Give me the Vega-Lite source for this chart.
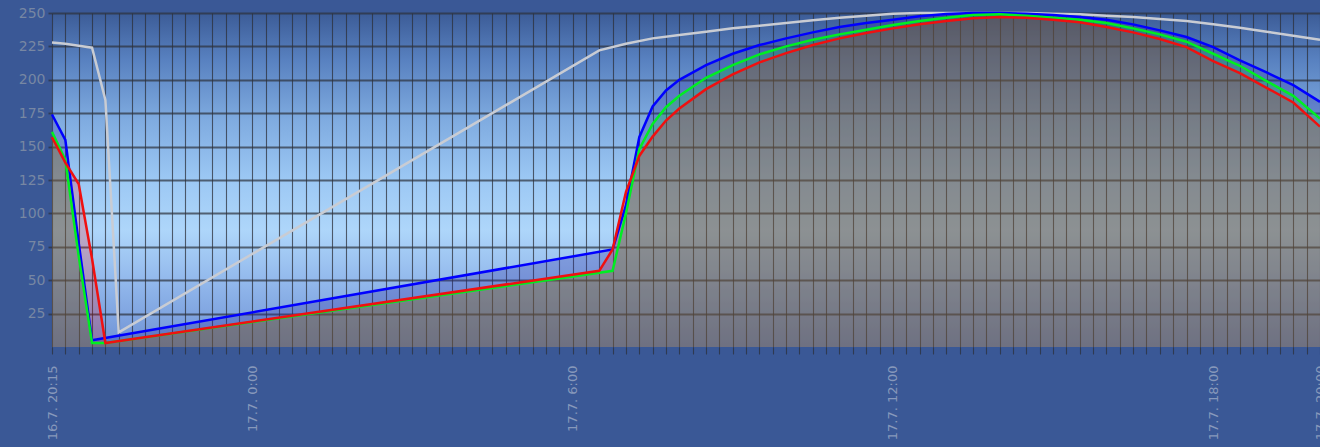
{
  "$schema": "https://vega.github.io/schema/vega-lite/v6.json",
  "width": 1268,
  "height": 334,
  "autosize": {"type": "none"},
  "padding": {"left": 52, "top": 13, "right": 0, "bottom": 100},
  "background": "#3a5896",
  "config": {
    "view": {
      "stroke": null,
      "fill": {
        "gradient": "linear", "x1": 0, "y1": 0, "x2": 0, "y2": 1,
        "stops": [
          {"offset": 0, "color": "#3c5c97"},
          {"offset": 0.14, "color": "#5881c0"},
          {"offset": 0.32, "color": "#7fabe0"},
          {"offset": 0.5, "color": "#9cc8f4"},
          {"offset": 0.65, "color": "#aed6fa"},
          {"offset": 0.82, "color": "#8fb5ea"},
          {"offset": 1, "color": "#6f92d5"}
        ]
      }
    }
  },
  "data": {
    "values": [
      {"s": "b", "t": "2015-07-16T20:15", "v": 174},
      {"s": "b", "t": "2015-07-16T20:30", "v": 155},
      {"s": "b", "t": "2015-07-16T20:45", "v": 78},
      {"s": "b", "t": "2015-07-16T21:00", "v": 5},
      {"s": "b", "t": "2015-07-17T06:45", "v": 73},
      {"s": "b", "t": "2015-07-17T07:00", "v": 106},
      {"s": "b", "t": "2015-07-17T07:15", "v": 157},
      {"s": "b", "t": "2015-07-17T07:30", "v": 180},
      {"s": "b", "t": "2015-07-17T07:45", "v": 192},
      {"s": "b", "t": "2015-07-17T08:00", "v": 200},
      {"s": "b", "t": "2015-07-17T08:30", "v": 211},
      {"s": "b", "t": "2015-07-17T09:00", "v": 219.5},
      {"s": "b", "t": "2015-07-17T09:30", "v": 226},
      {"s": "b", "t": "2015-07-17T10:00", "v": 231},
      {"s": "b", "t": "2015-07-17T10:30", "v": 235.5},
      {"s": "b", "t": "2015-07-17T11:00", "v": 239.5},
      {"s": "b", "t": "2015-07-17T11:30", "v": 242.5},
      {"s": "b", "t": "2015-07-17T12:00", "v": 245},
      {"s": "b", "t": "2015-07-17T12:30", "v": 247.5},
      {"s": "b", "t": "2015-07-17T13:00", "v": 249.2},
      {"s": "b", "t": "2015-07-17T13:30", "v": 250},
      {"s": "b", "t": "2015-07-17T14:00", "v": 250},
      {"s": "b", "t": "2015-07-17T14:30", "v": 249.5},
      {"s": "b", "t": "2015-07-17T15:00", "v": 248.5},
      {"s": "b", "t": "2015-07-17T15:30", "v": 247},
      {"s": "b", "t": "2015-07-17T16:00", "v": 245},
      {"s": "b", "t": "2015-07-17T16:30", "v": 241.5},
      {"s": "b", "t": "2015-07-17T17:00", "v": 237},
      {"s": "b", "t": "2015-07-17T17:30", "v": 232},
      {"s": "b", "t": "2015-07-17T18:00", "v": 224.5},
      {"s": "b", "t": "2015-07-17T18:30", "v": 214.5},
      {"s": "b", "t": "2015-07-17T19:00", "v": 205.5},
      {"s": "b", "t": "2015-07-17T19:30", "v": 196},
      {"s": "b", "t": "2015-07-17T20:00", "v": 183.5},
      {"s": "g", "t": "2015-07-16T20:15", "v": 161},
      {"s": "g", "t": "2015-07-16T20:30", "v": 140},
      {"s": "g", "t": "2015-07-16T20:45", "v": 68},
      {"s": "g", "t": "2015-07-16T21:00", "v": 3},
      {"s": "g", "t": "2015-07-16T21:15", "v": 3},
      {"s": "g", "t": "2015-07-17T06:45", "v": 57},
      {"s": "g", "t": "2015-07-17T07:00", "v": 100},
      {"s": "g", "t": "2015-07-17T07:15", "v": 148},
      {"s": "g", "t": "2015-07-17T07:30", "v": 167},
      {"s": "g", "t": "2015-07-17T07:45", "v": 179.5},
      {"s": "g", "t": "2015-07-17T08:00", "v": 188},
      {"s": "g", "t": "2015-07-17T08:30", "v": 201.5},
      {"s": "g", "t": "2015-07-17T09:00", "v": 211},
      {"s": "g", "t": "2015-07-17T09:30", "v": 219},
      {"s": "g", "t": "2015-07-17T10:00", "v": 225},
      {"s": "g", "t": "2015-07-17T10:30", "v": 230},
      {"s": "g", "t": "2015-07-17T11:00", "v": 234},
      {"s": "g", "t": "2015-07-17T11:30", "v": 237.5},
      {"s": "g", "t": "2015-07-17T12:00", "v": 241},
      {"s": "g", "t": "2015-07-17T12:30", "v": 244},
      {"s": "g", "t": "2015-07-17T13:00", "v": 246.5},
      {"s": "g", "t": "2015-07-17T13:30", "v": 248.5},
      {"s": "g", "t": "2015-07-17T14:00", "v": 249},
      {"s": "g", "t": "2015-07-17T14:30", "v": 248},
      {"s": "g", "t": "2015-07-17T15:00", "v": 246.5},
      {"s": "g", "t": "2015-07-17T15:30", "v": 245},
      {"s": "g", "t": "2015-07-17T16:00", "v": 242.5},
      {"s": "g", "t": "2015-07-17T16:30", "v": 238.5},
      {"s": "g", "t": "2015-07-17T17:00", "v": 234},
      {"s": "g", "t": "2015-07-17T17:30", "v": 228.5},
      {"s": "g", "t": "2015-07-17T18:00", "v": 219.5},
      {"s": "g", "t": "2015-07-17T18:30", "v": 210.5},
      {"s": "g", "t": "2015-07-17T19:00", "v": 199},
      {"s": "g", "t": "2015-07-17T19:30", "v": 188},
      {"s": "g", "t": "2015-07-17T20:00", "v": 171},
      {"s": "r", "t": "2015-07-16T20:15", "v": 157},
      {"s": "r", "t": "2015-07-16T20:30", "v": 138},
      {"s": "r", "t": "2015-07-16T20:45", "v": 122},
      {"s": "r", "t": "2015-07-16T21:00", "v": 66},
      {"s": "r", "t": "2015-07-16T21:15", "v": 3},
      {"s": "r", "t": "2015-07-17T06:30", "v": 57},
      {"s": "r", "t": "2015-07-17T06:45", "v": 73},
      {"s": "r", "t": "2015-07-17T07:00", "v": 116},
      {"s": "r", "t": "2015-07-17T07:15", "v": 143},
      {"s": "r", "t": "2015-07-17T07:30", "v": 157.5},
      {"s": "r", "t": "2015-07-17T07:45", "v": 169.5},
      {"s": "r", "t": "2015-07-17T08:00", "v": 178.5},
      {"s": "r", "t": "2015-07-17T08:30", "v": 193},
      {"s": "r", "t": "2015-07-17T09:00", "v": 204},
      {"s": "r", "t": "2015-07-17T09:30", "v": 213},
      {"s": "r", "t": "2015-07-17T10:00", "v": 220},
      {"s": "r", "t": "2015-07-17T10:30", "v": 226},
      {"s": "r", "t": "2015-07-17T11:00", "v": 231},
      {"s": "r", "t": "2015-07-17T11:30", "v": 235},
      {"s": "r", "t": "2015-07-17T12:00", "v": 238.5},
      {"s": "r", "t": "2015-07-17T12:30", "v": 241.5},
      {"s": "r", "t": "2015-07-17T13:00", "v": 244},
      {"s": "r", "t": "2015-07-17T13:30", "v": 246},
      {"s": "r", "t": "2015-07-17T14:00", "v": 247},
      {"s": "r", "t": "2015-07-17T14:30", "v": 246.5},
      {"s": "r", "t": "2015-07-17T15:00", "v": 245},
      {"s": "r", "t": "2015-07-17T15:30", "v": 243},
      {"s": "r", "t": "2015-07-17T16:00", "v": 239.5},
      {"s": "r", "t": "2015-07-17T16:30", "v": 235.5},
      {"s": "r", "t": "2015-07-17T17:00", "v": 230.5},
      {"s": "r", "t": "2015-07-17T17:30", "v": 224.5},
      {"s": "r", "t": "2015-07-17T18:00", "v": 214},
      {"s": "r", "t": "2015-07-17T18:30", "v": 205},
      {"s": "r", "t": "2015-07-17T19:00", "v": 194},
      {"s": "r", "t": "2015-07-17T19:30", "v": 183},
      {"s": "r", "t": "2015-07-17T20:00", "v": 165},
      {"s": "k", "t": "2015-07-16T20:15", "v": 228},
      {"s": "k", "t": "2015-07-16T20:30", "v": 227},
      {"s": "k", "t": "2015-07-16T20:45", "v": 225.5},
      {"s": "k", "t": "2015-07-16T21:00", "v": 224},
      {"s": "k", "t": "2015-07-16T21:15", "v": 185},
      {"s": "k", "t": "2015-07-16T21:30", "v": 11},
      {"s": "k", "t": "2015-07-17T06:30", "v": 222},
      {"s": "k", "t": "2015-07-17T07:00", "v": 227},
      {"s": "k", "t": "2015-07-17T07:30", "v": 231},
      {"s": "k", "t": "2015-07-17T08:00", "v": 233.5},
      {"s": "k", "t": "2015-07-17T08:30", "v": 236},
      {"s": "k", "t": "2015-07-17T09:00", "v": 238.5},
      {"s": "k", "t": "2015-07-17T09:30", "v": 240.5},
      {"s": "k", "t": "2015-07-17T10:00", "v": 242.5},
      {"s": "k", "t": "2015-07-17T10:30", "v": 244.5},
      {"s": "k", "t": "2015-07-17T11:00", "v": 246.5},
      {"s": "k", "t": "2015-07-17T11:30", "v": 248},
      {"s": "k", "t": "2015-07-17T12:00", "v": 249.5},
      {"s": "k", "t": "2015-07-17T12:30", "v": 250},
      {"s": "k", "t": "2015-07-17T13:00", "v": 250},
      {"s": "k", "t": "2015-07-17T13:30", "v": 250},
      {"s": "k", "t": "2015-07-17T14:00", "v": 250},
      {"s": "k", "t": "2015-07-17T14:30", "v": 250},
      {"s": "k", "t": "2015-07-17T15:00", "v": 249.5},
      {"s": "k", "t": "2015-07-17T15:30", "v": 249},
      {"s": "k", "t": "2015-07-17T16:00", "v": 248},
      {"s": "k", "t": "2015-07-17T16:30", "v": 247},
      {"s": "k", "t": "2015-07-17T17:00", "v": 245.5},
      {"s": "k", "t": "2015-07-17T17:30", "v": 244},
      {"s": "k", "t": "2015-07-17T18:00", "v": 241.5},
      {"s": "k", "t": "2015-07-17T18:30", "v": 239},
      {"s": "k", "t": "2015-07-17T19:00", "v": 236},
      {"s": "k", "t": "2015-07-17T19:30", "v": 233},
      {"s": "k", "t": "2015-07-17T20:00", "v": 230}
    ]
  },
  "encoding": {
    "x": {
      "field": "t", "type": "temporal",
      "scale": {"nice": false},
      "axis": {
        "title": null,
        "tickCount": 96,
        "grid": true, "gridColor": "#2c303a", "gridOpacity": 0.75, "gridWidth": 1.1,
        "ticks": true, "tickSize": 7, "tickColor": "#2c303a", "tickOpacity": 0.75, "tickWidth": 1.1,
        "domain": false,
        "labelExpr": "(minutes(datum.value) == 0 && hours(datum.value) % 6 == 0) || (hours(datum.value) == 20 && (minutes(datum.value) == 15 || minutes(datum.value) == 0)) ? timeFormat(datum.value, '%-d.%-m. %-H:%M') : ''",
        "labelAngle": 270, "labelPadding": 11, "labelFontSize": 13,
        "labelFont": "DejaVu Sans", "labelColor": "#8798bb",
        "labelOverlap": false, "labelFlush": false, "labelBound": false
      }
    },
    "y": {
      "field": "v", "type": "quantitative",
      "scale": {"domain": [0, 250], "nice": false},
      "axis": {
        "title": null,
        "values": [25, 50, 75, 100, 125, 150, 175, 200, 225, 250],
        "grid": true, "gridColor": "#2c303a", "gridOpacity": 0.7, "gridWidth": 1.8,
        "ticks": true, "tickSize": 4, "tickColor": "#2c303a", "tickOpacity": 0.7, "tickWidth": 1.8,
        "domain": false,
        "labelPadding": 3, "labelFontSize": 14, "labelFont": "DejaVu Sans",
        "labelColor": "#7787a3", "labelFlush": false, "labelBound": false
      }
    }
  },
  "layer": [
    {
      "transform": [{"filter": "datum.s == 'b'"}],
      "mark": {"type": "area", "color": "#2a2aa0", "opacity": 0.28}
    },
    {
      "transform": [{"filter": "datum.s == 'g'"}],
      "mark": {"type": "area", "color": "#00ff00", "opacity": 0.18}
    },
    {
      "transform": [{"filter": "datum.s == 'r'"}],
      "mark": {"type": "area", "color": "#ff0000", "opacity": 0.2}
    },
    {
      "transform": [{"filter": "datum.s == 'k'"}],
      "mark": {"type": "line", "color": "#c9ccd3", "strokeWidth": 2.5}
    },
    {
      "transform": [{"filter": "datum.s == 'b'"}],
      "mark": {"type": "line", "color": "#0000ff", "strokeWidth": 2.5}
    },
    {
      "transform": [{"filter": "datum.s == 'g'"}],
      "mark": {"type": "line", "color": "#00ee22", "strokeWidth": 2.5}
    },
    {
      "transform": [{"filter": "datum.s == 'r'"}],
      "mark": {"type": "line", "color": "#f01010", "strokeWidth": 2.5}
    }
  ]
}
